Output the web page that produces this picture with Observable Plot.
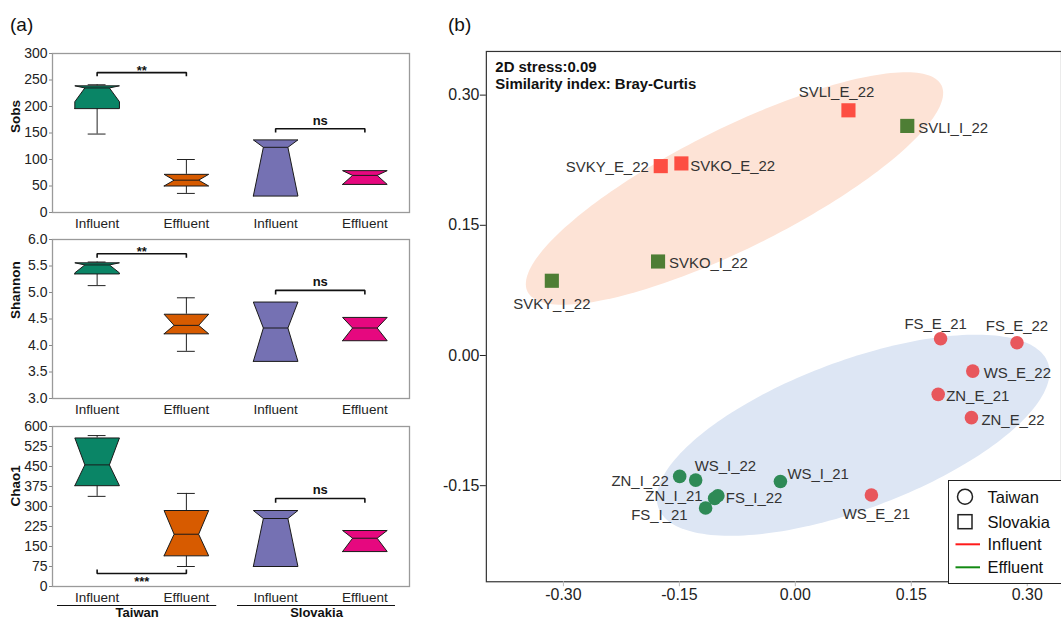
<!DOCTYPE html>
<html><head><meta charset="utf-8">
<script src="https://cdn.jsdelivr.net/npm/d3@7"></script>
<script src="https://cdn.jsdelivr.net/npm/@observablehq/plot@0.6"></script>
<style>
html,body{margin:0;padding:0;background:#fff;overflow:hidden;}
body{width:1061px;height:619px;position:relative;font-family:"Liberation Sans",Arial,sans-serif;}
.abs{position:absolute;}
svg{overflow:visible;}
.tag{position:absolute;font-size:19px;line-height:19px;color:#111;}
</style></head><body>
<div class="tag" style="left:10px;top:15px;">(a)</div>
<div class="tag" style="left:448px;top:15px;">(b)</div>
<div id="p1" class="abs" style="left:0;top:0;"></div>
<div id="p2" class="abs" style="left:0;top:200px;"></div>
<div id="p3" class="abs" style="left:0;top:400px;"></div>
<div id="p4" class="abs" style="left:440px;top:40px;"></div>
<svg class="abs" style="left:948px;top:480px;" width="113" height="104" id="legend"></svg>
<script>
// ---------- (a) alpha diversity boxplots ----------
const groups = ["Influent", "Effluent", "Influent", "Effluent"];
const countryNames = ["Taiwan", "Slovakia"];
// each box: [whiskerLow, Q1, notchLow, median, notchHigh, Q3, whiskerHigh]
const sobs    = [[148,196,209,235,239,239,241],[36,50,50,61,72,72,100],[31,31,31,123,137,137,137],[53,53,53,70,79,79,79]];
const shannon = [[5.13,5.35,5.37,5.52,5.56,5.56,5.575],[3.89,4.22,4.22,4.38,4.59,4.59,4.90],[3.70,3.70,3.70,4.33,4.82,4.82,4.82],[4.09,4.09,4.09,4.33,4.53,4.53,4.53]];
const chao1   = [[338,378,378,456,557,557,566],[75,115,115,196,285,285,349],[75,75,75,255,285,285,285],[131,131,131,181,210,210,210]];
const sobsTicks = [0,50,100,150,200,250,300];
const shannonTicks = [3.0,3.5,4.0,4.5,5.0,5.5,6.0];
const chao1Ticks = [0,75,150,225,300,375,450,525,600];
// significance brackets: from box, to box, bar level, end level, label, label level
const sobsTests    = [{a:1,b:2,y:264,tip:257,label:"**",ly:268},{a:3,b:4,y:158,tip:151,label:"ns",ly:173}];
const shannonTests = [{a:1,b:2,y:5.73,tip:5.655,label:"**",ly:5.77},{a:3,b:4,y:5.04,tip:4.96,label:"ns",ly:5.20}];
const chao1Tests   = [{a:1,b:2,y:49,tip:64,label:"***",ly:18},{a:3,b:4,y:330,tip:314,label:"ns",ly:363}];
const countrySpans = [{name:"Taiwan",x1:0.556,x2:2.34},{name:"Slovakia",x1:2.573,x2:4.343}];

// ---------- (b) NMDS ----------
const samples = ["SVLI_E_22","SVLI_I_22","SVKY_E_22","SVKO_E_22","SVKO_I_22","SVKY_I_22",
  "FS_E_21","FS_E_22","WS_E_22","ZN_E_21","ZN_E_22","WS_E_21","WS_I_21","WS_I_22","ZN_I_22","ZN_I_21","FS_I_22","FS_I_21"];
const nmds1 = [0.0687,0.1448,-0.1741,-0.1474,-0.1776,-0.3150,
  0.1879,0.2867,0.2295,0.1848,0.2278,0.0984,-0.0193,-0.1289,-0.1496,-0.1044,-0.1002,-0.1161];
const nmds2 = [0.2825,0.2645,0.2182,0.2213,0.1083,0.0861,
  0.0192,0.0146,-0.0180,-0.0448,-0.0716,-0.1608,-0.1451,-0.1436,-0.1393,-0.1646,-0.1616,-0.1757];
const nmdsTicks = [-0.30,-0.15,0.00,0.15,0.30];
// group ellipses: centre and two conjugate semi-axes (NMDS units)
const ellipses = [
  {country:"Slovakia", cx:-0.0787, cy:0.1924, ux:0.2677, uy:0.1189, vx:0.03456, vy:-0.06167},
  {country:"Taiwan",   cx:0.0748, cy:-0.0919, ux:0.2518, uy:0.0838, vx:0.0336, vy:-0.0800}
];

// ---------- styles / layout ----------
const FONT = '"Liberation Sans", Arial, sans-serif';
const boxColors = ["#0a8566", "#d75b00", "#7571b3", "#e6087f"];
const W = 0.25, NW = 0.1375, CAP = 0.1;

function boxPanel(stats, domain, ticks, tests, title, cfg) {
  const boxes = stats.map((s, i) => ({c: i + 1, lo: s[0], q1: s[1], nlo: s[2], med: s[3], nhi: s[4], q3: s[5], hi: s[6]}));
  const polys = boxes.map(b => [
    [b.c - W, b.q1], [b.c - W, b.nlo], [b.c - NW, b.med], [b.c - W, b.nhi], [b.c - W, b.q3],
    [b.c + W, b.q3], [b.c + W, b.nhi], [b.c + NW, b.med], [b.c + W, b.nlo], [b.c + W, b.q1], [b.c - W, b.q1]
  ]);
  const upper = boxes.filter(b => b.hi > b.q3), lower = boxes.filter(b => b.lo < b.q1);
  const bracketPts = tests.map(t => [[t.a, t.tip], [t.a, t.y], [t.b, t.y], [t.b, t.tip]]);
  const marks = [
    Plot.frame({stroke: "#9a9a9a", strokeWidth: 1.3}),
    Plot.axisY({ticks, tickSize: 3, tickPadding: 2, stroke: "#888", fill: "#222", fontSize: 14, label: null, tickFormat: cfg.fmt}),
    Plot.axisX({ticks: [1, 2, 3, 4], tickFormat: i => groups[i - 1], tickSize: 0, tickPadding: 6, fill: "#222", fontSize: 13.5, label: null}),
    Plot.ruleX(upper, {x: "c", y1: "q3", y2: "hi", stroke: "#222", strokeWidth: 1}),
    Plot.ruleX(lower, {x: "c", y1: "lo", y2: "q1", stroke: "#222", strokeWidth: 1}),
    Plot.ruleY(upper, {y: "hi", x1: d => d.c - CAP, x2: d => d.c + CAP, stroke: "#222", strokeWidth: 1}),
    Plot.ruleY(lower, {y: "lo", x1: d => d.c - CAP, x2: d => d.c + CAP, stroke: "#222", strokeWidth: 1}),
    ...polys.map((p, i) => Plot.line(p, {x: d => d[0], y: d => d[1], fill: boxColors[i], stroke: "#1a1a1a", strokeWidth: 1, curve: "linear", strokeLinejoin: "miter"})),
    Plot.link(boxes, {x1: d => d.c - NW, x2: d => d.c + NW, y1: "med", y2: "med", stroke: "#1a1a1a", strokeWidth: 1}),
    ...bracketPts.map(p => Plot.line(p, {x: d => d[0], y: d => d[1], stroke: "#111", strokeWidth: 1.6, strokeLinejoin: "miter", strokeLinecap: "butt"})),
    Plot.text(tests, {x: d => (d.a + d.b) / 2, y: "ly", text: "label", fontWeight: "bold", fontSize: 13, fill: "#111"}),
    Plot.text([title], {frameAnchor: "left", dx: -37, rotate: -90, fontWeight: "bold", fontSize: 13.5, fill: "#111"})
  ];
  if (cfg.groups) {
    marks.push(Plot.ruleY(countrySpans, {y: domain[0], x1: "x1", x2: "x2", dy: 19, stroke: "#111", strokeWidth: 1.2}));
    marks.push(Plot.text(countrySpans, {x: d => (d.x1 + d.x2) / 2, y: domain[0], dy: 26, text: "name", fontWeight: "bold", fontSize: 13, fill: "#111"}));
  }
  return Plot.plot({
    width: 420, height: cfg.height,
    marginLeft: 52, marginRight: 11, marginTop: cfg.mt, marginBottom: cfg.mb,
    x: {domain: [0.5, 4.5]},
    y: {domain},
    style: {fontFamily: FONT, fontSize: "14px", color: "#222", background: "transparent", overflow: "visible"},
    marks
  });
}

document.getElementById("p1").append(boxPanel(sobs, [0, 300], sobsTicks, sobsTests, "Sobs", {height: 240, mt: 53, mb: 28}));
document.getElementById("p2").append(boxPanel(shannon, [3, 6], shannonTicks, shannonTests, "Shannon", {height: 226, mt: 39, mb: 28, fmt: d => d.toFixed(1)}));
document.getElementById("p3").append(boxPanel(chao1, [0, 600], chao1Ticks, chao1Tests, "Chao1", {height: 219, mt: 26, mb: 33, groups: true}));

// ---------- NMDS panel ----------
const pts = samples.map((s, i) => ({
  name: s, x: nmds1[i], y: nmds2[i],
  country: s.startsWith("SV") ? "Slovakia" : "Taiwan",
  type: s.split("_")[1]
}));
const pointColors = {Slovakia: {E: "#fd4e42", I: "#4e7e35"}, Taiwan: {E: "#e8575c", I: "#2e8a56"}};
const ellipseColors = {Slovakia: "#fde3d6", Taiwan: "#dde6f4"};
// label placement (pixel nudges, like ggrepel output)
const labelNudge = {
  SVLI_E_22: ["middle", -12, -18], SVLI_I_22: ["start", 11, 2], SVKY_E_22: ["end", -12, 1],
  SVKO_E_22: ["start", 9, 3], SVKO_I_22: ["start", 11, 2], SVKY_I_22: ["middle", 0, 24],
  FS_E_21: ["middle", -5, -15], FS_E_22: ["middle", 0, -17], WS_E_22: ["start", 11, 2],
  ZN_E_21: ["start", 8, 2], ZN_E_22: ["start", 10, 3], WS_E_21: ["middle", 5, 19],
  WS_I_21: ["start", 7, -7], WS_I_22: ["start", -1, -14], ZN_I_22: ["end", -11, 5],
  ZN_I_21: ["end", -12, -2], FS_I_22: ["start", 8, 2], FS_I_21: ["end", -18, 7]
};
const ellipsePts = e => d3.range(0, 201).map(k => {
  const t = (k / 200) * 2 * Math.PI;
  return {x: e.cx + e.ux * Math.cos(t) + e.vx * Math.sin(t), y: e.cy + e.uy * Math.cos(t) + e.vy * Math.sin(t)};
});

const nmds = Plot.plot({
  width: 623, height: 579,
  marginLeft: 46, marginRight: 0, marginTop: 11, marginBottom: 36,
  x: {domain: [-0.3997, 0.3443]},
  y: {domain: [-0.2607, 0.3503]},
  style: {fontFamily: FONT, fontSize: "16px", color: "#222", background: "transparent", overflow: "visible"},
  marks: [
    ...ellipses.map(e => Plot.line(ellipsePts(e), {x: "x", y: "y", fill: ellipseColors[e.country], stroke: "none"})),
    Plot.frame({stroke: "#333", strokeWidth: 1.2}),
    Plot.axisY({ticks: nmdsTicks.slice(1), tickFormat: d => d.toFixed(2), tickSize: 6, tickPadding: 1, fontSize: 16, label: null, stroke: "#222", fill: "#222"}),
    Plot.axisX({ticks: nmdsTicks, tickFormat: d => d.toFixed(2), tickSize: 5, tickPadding: 2, fontSize: 16, label: null, stroke: "#bbb", fill: "#222"}),
    Plot.dot(pts.filter(d => d.country === "Slovakia"), {x: "x", y: "y", symbol: "square", r: 8, fill: d => pointColors[d.country][d.type], stroke: "none"}),
    Plot.dot(pts.filter(d => d.country === "Taiwan"), {x: "x", y: "y", symbol: "circle", r: 6.8, fill: d => pointColors[d.country][d.type], stroke: "none"}),
    ...pts.map(d => {
      const [anchor, dx, dy] = labelNudge[d.name];
      return Plot.text([d], {x: "x", y: "y", text: "name", textAnchor: anchor, dx, dy, fontSize: 15, fill: "#333"});
    }),
    Plot.text(["2D stress:0.09"], {frameAnchor: "top-left", textAnchor: "start", lineAnchor: "top", dx: 9, dy: 10, fontWeight: "bold", fontSize: 15, fill: "#111"}),
    Plot.text(["Similarity index: Bray-Curtis"], {frameAnchor: "top-left", textAnchor: "start", lineAnchor: "top", dx: 9, dy: 27.4, fontWeight: "bold", fontSize: 15, fill: "#111"})
  ]
});
document.getElementById("p4").append(nmds);

// ---------- legend ----------
const legendItems = [
  {label: "Taiwan", kind: "circle"}, {label: "Slovakia", kind: "square"},
  {label: "Influent", kind: "line", color: "#ff1a1a"}, {label: "Effluent", kind: "line", color: "#138a13"}
];
const lg = d3.select("#legend");
lg.append("rect").attr("x", 0.5).attr("y", 0.5).attr("width", 200).attr("height", 103).attr("fill", "#fff").attr("stroke", "#222").attr("stroke-width", 1);
const rowY = [16.7, 41.7, 64.3, 87.3];
legendItems.forEach((it, i) => {
  const y = rowY[i];
  if (it.kind === "circle") lg.append("circle").attr("cx", 17).attr("cy", y).attr("r", 7.5).attr("fill", "none").attr("stroke", "#222").attr("stroke-width", 1.5);
  else if (it.kind === "square") lg.append("rect").attr("x", 10).attr("y", y - 7).attr("width", 14).attr("height", 14).attr("fill", "none").attr("stroke", "#222").attr("stroke-width", 1.5);
  else lg.append("line").attr("x1", 7.5).attr("x2", 32).attr("y1", y).attr("y2", y).attr("stroke", it.color).attr("stroke-width", 2);
  lg.append("text").attr("x", 39.5).attr("y", y + 6).attr("font-family", FONT).attr("font-size", 16.5).attr("fill", "#111").text(it.label);
});
</script>
</body></html>
